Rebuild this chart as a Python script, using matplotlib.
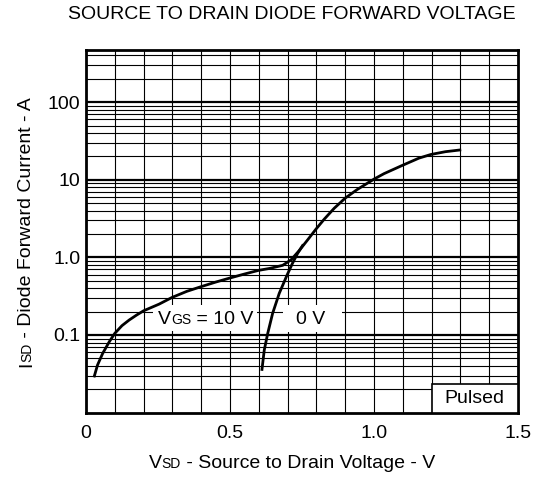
import matplotlib
matplotlib.use("Agg")
import matplotlib.pyplot as plt
import matplotlib.ticker as mticker
import matplotlib.transforms as mtransforms
from matplotlib.font_manager import FontProperties
from matplotlib.patches import Rectangle

plt.rcParams["font.family"] = ["Liberation Sans", "DejaVu Sans"]

# VGS = 10 V curve (V, A)
vgs10_v = [0.029, 0.040, 0.058, 0.081, 0.100, 0.125, 0.150, 0.175, 0.200, 0.254,
           0.299, 0.35, 0.40, 0.45, 0.498, 0.55, 0.599, 0.637, 0.683, 0.712,
           0.740, 0.769, 0.798, 0.827, 0.862, 0.900, 0.942, 1.000, 1.035,
           1.098, 1.156, 1.198, 1.248, 1.298]
vgs10_i = [0.0296, 0.041, 0.058, 0.082, 0.105, 0.132, 0.156, 0.18, 0.205, 0.25,
           0.305, 0.365, 0.42, 0.48, 0.54, 0.61, 0.68, 0.72, 0.79, 0.93,
           1.22, 1.67, 2.3, 3.1, 4.3, 5.8, 7.5, 10.2, 12.0,
           15.3, 19.0, 21.2, 23.0, 24.2]

# VGS = 0 V curve
vgs0_v = [0.611, 0.619, 0.631, 0.648, 0.671, 0.698, 0.717, 0.735, 0.752]
vgs0_i = [0.036, 0.064, 0.105, 0.19, 0.344, 0.59, 0.84, 1.13, 1.42]

x_ticks = [0, 0.5, 1.0, 1.5]
x_tick_labels = ["0", "0.5", "1.0", "1.5"]
y_ticks = [0.1, 1, 10, 100]
y_tick_labels = ["0.1", "1.0", "10", "100"]

W, H = 546, 480
fig = plt.figure(figsize=(W / 100, H / 100), dpi=100)
ax = fig.add_axes([86 / W, (H - 412.6) / H, (518 - 86) / W, (412.6 - 50) / H])

ax.set_yscale("log")
ax.set_xlim(0, 1.5)
ax.set_ylim(0.01, 470)

ax.plot(vgs10_v, vgs10_i, color="black", lw=2.0, zorder=3,
        solid_joinstyle="round")
ax.plot(vgs0_v, vgs0_i, color="black", lw=2.0, zorder=3,
        solid_joinstyle="round")

ax.set_xticks(x_ticks)
ax.set_xticklabels(x_tick_labels)
ax.xaxis.set_minor_locator(mticker.MultipleLocator(0.1))
ax.set_yticks(y_ticks)
ax.set_yticklabels(y_tick_labels)
ax.yaxis.set_minor_locator(mticker.LogLocator(base=10, subs=range(2, 10)))
ax.yaxis.set_minor_formatter(mticker.NullFormatter())
ax.tick_params(which="both", length=0, labelsize=14)
ax.tick_params(axis="x", pad=9)
ax.tick_params(axis="y", pad=4)

ax.grid(axis="x", which="both", color="black", lw=0.8)
ax.grid(axis="y", which="minor", color="black", lw=0.8)
ax.grid(axis="y", which="major", color="black", lw=1.6)
for sp in ax.spines.values():
    sp.set_linewidth(2.0)

pix = mtransforms.IdentityTransform()

# "Pulsed" box in the lower right corner
ax.add_patch(Rectangle((0.8, 0.0), 0.2, 0.079, transform=ax.transAxes,
                       facecolor="white", edgecolor="black", lw=1.2, zorder=4,
                       clip_on=False))
ax.text(0.9, 0.04, "Pulsed", transform=ax.transAxes, ha="center", va="center",
        fontsize=14, zorder=5)

# white boxes behind the curve labels (pixel coords, y measured from top)
ax.add_patch(Rectangle((153, H - 331), 104, 26, transform=pix,
                       facecolor="white", edgecolor="none", zorder=2))
ax.add_patch(Rectangle((283, H - 332), 59, 27, transform=pix,
                       facecolor="white", edgecolor="none", zorder=2))

renderer = fig.canvas.get_renderer()


def rich_text(x, y, parts, rotation=0, zorder=5):
    """Draw text pieces of different sizes on one baseline, centred at (x, y) pixels."""
    widths = []
    for s, size in parts:
        prop = FontProperties(family="Liberation Sans", size=size)
        widths.append(renderer.get_text_width_height_descent(s, prop, ismath=False)[0])
    offset = -sum(widths) / 2
    for (s, size), w in zip(parts, widths):
        if rotation == 0:
            px, py = x + offset, y
        else:
            px, py = x, y + offset
        fig.text(px, py, s, fontsize=size, rotation=rotation, rotation_mode="anchor",
                 ha="left", va="baseline", transform=pix, zorder=zorder)
        offset += w


rich_text(205.5, H - 324, [("V", 14), ("GS", 10), (" = 10 V", 14)])
rich_text(311, H - 324, [("0 V", 14)])

fig.text(291.5, H - 19, "SOURCE TO DRAIN DIODE FORWARD VOLTAGE", fontsize=14,
         ha="center", va="baseline", transform=pix)
rich_text(292, H - 468, [("V", 14), ("SD", 10), (" - Source to Drain Voltage - V", 14)])
rich_text(31, H - 232, [("I", 14), ("SD", 10), (" - Diode Forward Current - A", 14)],
          rotation=90)

fig.savefig("out.png", dpi=100)
